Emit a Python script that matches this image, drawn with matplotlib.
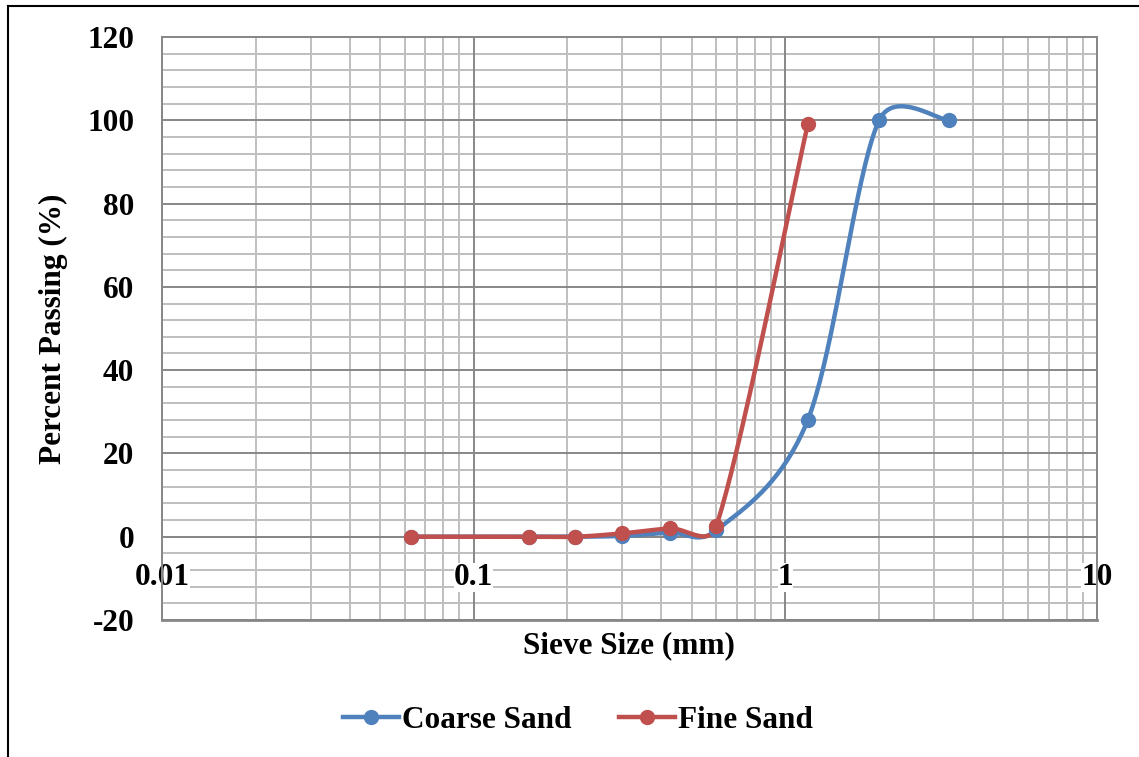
import numpy as np
from matplotlib import pyplot as plt
from matplotlib.lines import Line2D
from matplotlib.ticker import FixedLocator, MultipleLocator, LogLocator, NullFormatter

# sieve sizes (mm) and percent passing
coarse_size = [0.063, 0.15, 0.212, 0.3, 0.425, 0.6, 1.18, 2.0, 3.35]
coarse_pass = [0.0, 0.0, 0.0, 0.2, 1.0, 1.5, 28.0, 100.0, 100.0]
fine_size = [0.063, 0.15, 0.212, 0.3, 0.425, 0.6, 1.18]
fine_pass = [0.0, 0.0, 0.0, 0.8, 2.0, 2.5, 99.0]

x_ticks = [0.01, 0.1, 1, 10]
x_tick_labels = ['0.01', '0.1', '1', '10']

BLUE = '#4F81BD'
RED = '#C0504D'
MAJOR = '#878787'
MINOR = '#BFBFBF'
FONT = 'Liberation Serif'

# pixel scale of the plot area, used so the smoothing behaves like the spreadsheet one
PX_PER_DECADE = 311.7
PX_PER_UNIT = 4.167


def smooth(xs, ys, n=40, cap=0.5):
    # bezier through the points with catmull-rom control points, worked out in screen space;
    # a control arm is never longer than cap * its segment
    p = np.column_stack([np.log10(xs) * PX_PER_DECADE, np.asarray(ys) * PX_PER_UNIT])
    p = np.vstack([p[0], p, p[-1]])
    t = np.linspace(0, 1, n)[:, None]
    out = []
    for i in range(1, len(p) - 2):
        p0, p1, p2, p3 = p[i - 1], p[i], p[i + 1], p[i + 2]
        seg_len = np.hypot(*(p2 - p1))
        a1 = (p2 - p0) / 6
        a2 = (p3 - p1) / 6
        for a in (a1, a2):
            length = np.hypot(*a)
            if length > cap * seg_len:
                a *= cap * seg_len / length
        b1 = p1 + a1
        b2 = p2 - a2
        seg = (1 - t) ** 3 * p1 + 3 * (1 - t) ** 2 * t * b1 + 3 * (1 - t) * t ** 2 * b2 + t ** 3 * p2
        out.append(seg)
    out = np.vstack(out)
    return 10 ** (out[:, 0] / PX_PER_DECADE), out[:, 1] / PX_PER_UNIT


plt.rcParams['font.family'] = [FONT, 'DejaVu Serif']
plt.rcParams['font.weight'] = 'bold'
plt.rcParams['axes.unicode_minus'] = False

fig = plt.figure(figsize=(11.39, 7.57), dpi=100)
ax = fig.add_axes([162 / 1139, 1 - 620 / 757, (1097 - 162) / 1139, (620 - 37) / 757])

for xs, ys, color in [(coarse_size, coarse_pass, BLUE), (fine_size, fine_pass, RED)]:
    sx, sy = smooth(np.array(xs), np.array(ys))
    ax.plot(sx, sy, color=color, lw=3.2, zorder=3, solid_capstyle='round')
    ax.plot(xs, ys, 'o', color=color, ms=10, zorder=4)

ax.set_xscale('log')
ax.set_xlim(0.01, 10)
ax.set_ylim(-20, 120)

ax.xaxis.set_major_locator(FixedLocator(x_ticks))
ax.set_xticklabels(x_tick_labels)
ax.xaxis.set_minor_locator(LogLocator(base=10, subs=np.arange(2, 10)))
ax.xaxis.set_minor_formatter(NullFormatter())
ax.yaxis.set_major_locator(MultipleLocator(20))
ax.yaxis.set_minor_locator(MultipleLocator(4))

# grid drawn by hand under everything, so the tick label boxes can sit on top of it
for v in ax.xaxis.get_minorticklocs():
    if 0.01 < v < 10:
        ax.axvline(v, color=MINOR, lw=1.4, zorder=0.6)
for v in ax.yaxis.get_minorticklocs():
    if -20 < v < 120:
        ax.axhline(v, color=MINOR, lw=1.4, zorder=0.6)
for v in x_ticks:
    ax.axvline(v, color=MAJOR, lw=1.4, zorder=0.8)
for v in ax.yaxis.get_majorticklocs():
    ax.axhline(v, color=MAJOR, lw=1.4, zorder=0.8)

for side in ['left', 'right', 'top', 'bottom']:
    ax.spines[side].set_color(MAJOR)
    ax.spines[side].set_linewidth(1.4)
ax.spines['bottom'].set_position(('data', 0))
ax.axhline(-20, color=MAJOR, lw=2.0, clip_on=False, zorder=0.8)

ax.tick_params(which='both', length=0)
ax.tick_params(axis='x', pad=19, labelsize=22.5)
ax.tick_params(axis='y', pad=20, labelsize=22.5)
for lab in ax.get_xticklabels():
    lab.set_fontweight('bold')
    lab.set_bbox(dict(facecolor='white', edgecolor='none', pad=0))
for lab in ax.get_yticklabels():
    lab.set_fontweight('bold')

ax.set_ylabel('Percent Passing (%)', fontsize=22.5, fontweight='bold')
ax.yaxis.set_label_coords((68 - 162) / 935, 0.5)
fig.text(629 / 1139, 1 - 646 / 757, 'Sieve Size (mm)', fontsize=22.5, fontweight='bold',
         ha='center', va='center')

handles = [Line2D([], [], color=BLUE, lw=3.2, marker='o', ms=10),
           Line2D([], [], color=RED, lw=3.2, marker='o', ms=10)]
fig.legend(handles, ['Coarse Sand', 'Fine Sand'], loc='center', ncol=2, frameon=False,
           bbox_to_anchor=(578 / 1139, 1 - 720 / 757), prop={'size': 22.5, 'weight': 'bold'},
           handlelength=1.8, handletextpad=0.1, columnspacing=1.5)

# outer chart frame (left and top edges visible)
fig.add_artist(Line2D([8 / 1139, 8 / 1139], [0, 1 - 6 / 757], color='black', lw=1.5,
                      transform=fig.transFigure))
fig.add_artist(Line2D([8 / 1139, 1], [1 - 6 / 757, 1 - 6 / 757], color='black', lw=1.5,
                      transform=fig.transFigure))

fig.savefig('out.png', dpi=100)
